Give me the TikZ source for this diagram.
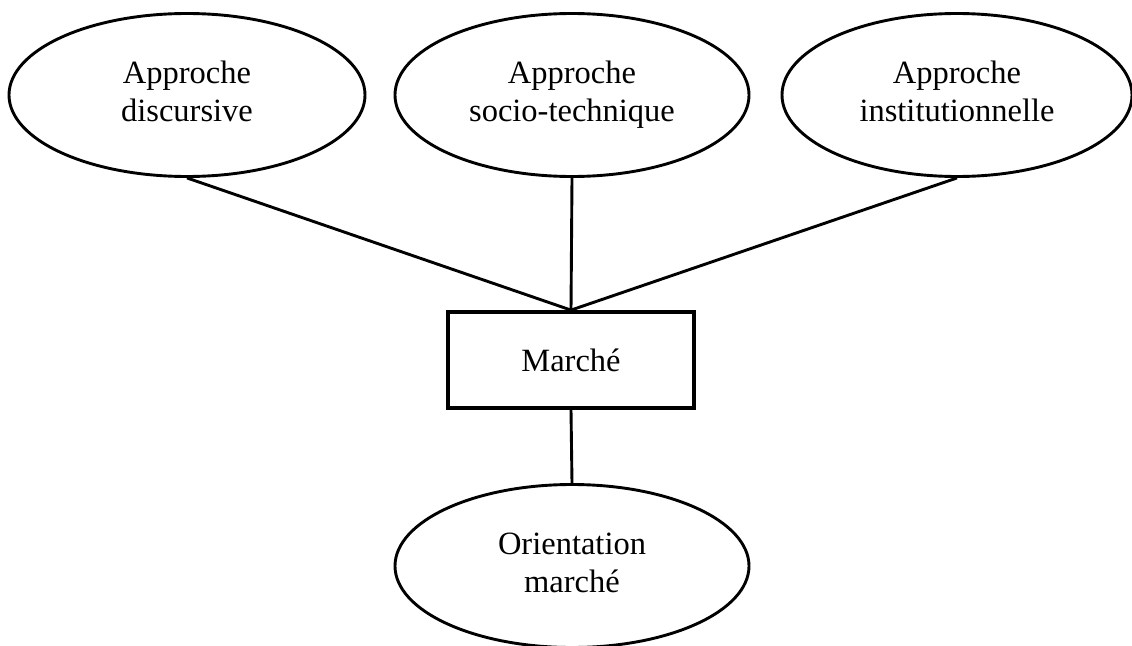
\documentclass[tikz,border=0pt]{standalone}
\usepackage{fontspec}
\setmainfont{Liberation Serif}
\usetikzlibrary{shapes.geometric}
\begin{document}
\begin{tikzpicture}[x=1pt,y=-1pt,
  oval/.style={draw,ellipse,line width=2.9pt,minimum width=354pt,minimum height=163pt,inner sep=0pt,align=center,font=\fontsize{32.5}{38}\selectfont},
  box/.style={draw,rectangle,line width=3.8pt,minimum width=246pt,minimum height=96pt,inner sep=0pt,font=\fontsize{32.5}{38}\selectfont},
  link/.style={line width=2.9pt}]
\useasboundingbox (0,0) rectangle (1132,645);
\node[oval,minimum width=356pt] (d) at (187,95) {Approche\strut\\discursive\strut};
\node[oval] (s) at (572,95) {Approche\strut\\socio-technique\strut};
\node[oval,minimum width=350pt] (i) at (957,95) {Approche\strut\\institutionnelle\strut};
\node[box] (m) at (571,360) {Marché};
\node[oval] (o) at (572,566) {Orientation\strut\\marché\strut};
\draw[link] (d.south) -- (m.north);
\draw[link] (s.south) -- (m.north);
\draw[link] (i.south) -- (m.north);
\draw[link] (m.south) -- (o.north);
\end{tikzpicture}
\end{document}
